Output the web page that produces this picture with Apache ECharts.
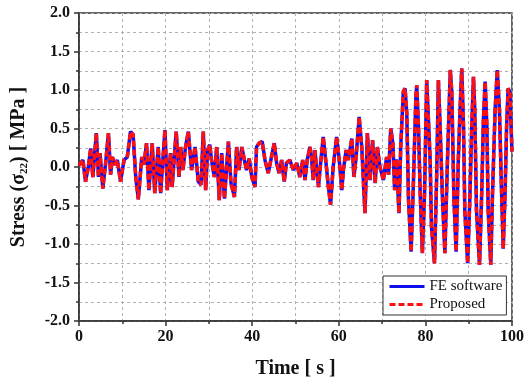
<!DOCTYPE html>
<html>
<head>
<meta charset="utf-8">
<script src="https://cdn.jsdelivr.net/npm/echarts@6/dist/echarts.min.js"></script>
<style>
html,body{margin:0;padding:0;background:#fff;}
#chart{width:527px;height:381px;}
</style>
</head>
<body>
<div id="chart"></div>
<script>
var time = [0.0,0.4,0.9,1.5,2.15,2.7,3.2,4.0,4.5,4.85,5.5,6.15,6.8,7.3,7.7,8.3,8.85,9.6,10.4,11.15,11.9,12.5,13.1,13.7,14.5,15.0,15.6,16.15,16.9,17.5,18.3,18.85,19.85,20.4,21.15,21.5,22.45,23.1,23.45,24.0,24.6,25.25,26.0,26.8,27.55,28.2,28.7,29.25,29.7,30.2,30.6,31.25,31.8,32.4,32.95,33.6,34.5,35.1,35.9,36.4,36.95,37.6,38.2,38.7,39.3,39.9,40.65,41.0,41.6,42.3,42.95,43.7,44.3,45.1,45.65,46.2,46.8,47.4,47.9,48.7,49.5,50.3,51.0,51.65,52.2,52.7,53.35,53.7,54.1,54.5,54.9,55.3,55.8,56.4,57.05,57.6,58.1,58.7,59.5,60.1,60.7,61.05,61.7,62.2,63.0,63.5,64.0,64.7,65.3,66.05,66.6,67.2,67.8,68.4,68.9,69.5,70.3,71.05,71.5,72.0,72.5,72.9,73.3,73.9,74.3,74.9,75.3,75.7,76.1,76.7,77.2,77.8,78.0,78.4,78.8,79.3,79.8,80.3,80.7,81.1,81.4,82.1,82.6,83.0,83.4,83.9,84.5,85.1,85.75,86.1,86.6,87.1,87.6,88.0,88.4,88.8,89.1,89.76,90.3,90.7,91.1,91.4,91.8,92.5,93.0,93.4,93.8,94.2,94.5,95.1,95.5,96.1,96.6,97.1,97.6,97.97,98.4,98.75,99.1,99.5,100];

var feSoftware = [0.02,0.03,0.09,-0.19,0.0,0.24,-0.13,0.44,-0.13,0.18,-0.28,0.05,0.44,-0.1,0.13,0.03,0.09,-0.19,0.09,0.13,0.46,0.42,-0.13,-0.42,0.13,0.03,0.31,-0.3,0.31,-0.34,0.26,-0.34,0.48,-0.3,0.18,-0.26,0.46,-0.13,0.26,-0.04,0.26,0.46,-0.04,0.26,-0.19,-0.23,0.46,-0.3,0.22,0.29,0.09,-0.13,0.26,-0.43,0.18,-0.41,0.33,-0.21,-0.39,0.26,-0.04,0.26,0.09,-0.04,0.11,-0.13,-0.26,0.26,0.31,0.33,0.09,-0.08,0.09,0.31,0.05,-0.08,0.09,-0.19,0.05,0.09,-0.04,0.05,-0.13,0.09,-0.17,0.09,0.26,0.13,-0.17,0.22,-0.04,-0.26,0.05,0.39,0.05,-0.26,-0.49,0.0,0.39,0.09,-0.3,-0.04,0.22,0.09,0.37,-0.13,0.13,0.65,0.26,-0.6,0.44,-0.17,0.35,-0.21,0.26,0.0,-0.17,0.13,-0.1,0.5,0.3,-0.3,0.1,-0.6,0.26,0.98,1.02,0.7,-0.43,-1.1,-0.26,0.91,1.06,0.52,-0.34,-1.12,-0.34,1.13,1.11,0.09,-0.77,-1.25,-0.13,1.13,0.52,-0.34,-1.12,0.09,1.26,0.96,-0.43,-1.1,0.09,0.74,1.28,0.52,-0.56,-1.25,-0.34,0.52,1.17,0.74,-0.56,-1.27,-0.34,0.61,1.11,0.52,-0.56,-1.27,-0.34,0.74,1.26,0.74,-0.34,-1.06,-0.34,0.52,1.02,0.98,0.2];

var proposed = [0.02,0.03,0.09,-0.19,0.0,0.24,-0.13,0.44,-0.13,0.18,-0.28,0.05,0.44,-0.1,0.13,0.03,0.09,-0.19,0.09,0.13,0.46,0.42,-0.13,-0.42,0.13,0.03,0.31,-0.3,0.31,-0.34,0.26,-0.34,0.48,-0.3,0.18,-0.26,0.46,-0.13,0.26,-0.04,0.26,0.46,-0.04,0.26,-0.19,-0.23,0.46,-0.3,0.22,0.29,0.09,-0.13,0.26,-0.43,0.18,-0.41,0.33,-0.21,-0.39,0.26,-0.04,0.26,0.09,-0.04,0.11,-0.13,-0.26,0.26,0.31,0.33,0.09,-0.08,0.09,0.31,0.05,-0.08,0.09,-0.19,0.05,0.09,-0.04,0.05,-0.13,0.09,-0.17,0.09,0.26,0.13,-0.17,0.22,-0.04,-0.26,0.05,0.39,0.05,-0.26,-0.49,0.0,0.39,0.09,-0.3,-0.04,0.22,0.09,0.37,-0.13,0.13,0.65,0.26,-0.6,0.44,-0.17,0.35,-0.21,0.26,0.0,-0.17,0.13,-0.1,0.5,0.3,-0.3,0.1,-0.6,0.26,0.98,1.02,0.7,-0.43,-1.1,-0.26,0.91,1.06,0.52,-0.34,-1.12,-0.34,1.13,1.11,0.09,-0.77,-1.25,-0.13,1.13,0.52,-0.34,-1.12,0.09,1.26,0.96,-0.43,-1.1,0.09,0.74,1.28,0.52,-0.56,-1.25,-0.34,0.52,1.17,0.74,-0.56,-1.27,-0.34,0.61,1.11,0.52,-0.56,-1.27,-0.34,0.74,1.26,0.74,-0.34,-1.06,-0.34,0.52,1.02,0.98,0.2];

var seriesNames = ['FE software', 'Proposed'];
var xTitle = 'Time [ s ]';

function pairs(xs, ys) {
  var out = [];
  for (var i = 0; i < xs.length; i++) out.push([xs[i], ys[i]]);
  return out;
}

var FONT = '"Liberation Serif", "Times New Roman", serif';
var gridLine = { show: true, lineStyle: { color: '#b0b0b0', type: [3, 3], width: 1 } };

var chart = echarts.init(document.getElementById('chart'), null, { renderer: 'canvas' });
chart.setOption({
  animation: false,
  backgroundColor: '#ffffff',
  grid: { left: 79, right: 15, top: 13, bottom: 60, containLabel: false, outerBoundsMode: 'none',
    show: true, borderColor: '#333', borderWidth: 1.5, backgroundColor: 'transparent' },
  legend: {
    orient: 'vertical',
    left: 383, top: 276,
    padding: [3, 4, 3, 5],
    itemGap: 3,
    itemWidth: 35, itemHeight: 14,
    backgroundColor: '#fff',
    borderColor: '#333', borderWidth: 1,
    borderRadius: 0,
    itemStyle: { opacity: 0 },
    lineStyle: { width: 3 },
    textStyle: { fontFamily: FONT, fontSize: 15, color: '#111' },
    data: seriesNames
  },
  xAxis: {
    type: 'value', min: 0, max: 100, interval: 20,
    name: xTitle, nameLocation: 'middle', nameGap: 38,
    nameTextStyle: { fontFamily: FONT, fontWeight: 'bold', fontSize: 20, color: '#111' },
    axisLine: { show: true, onZero: false, lineStyle: { color: '#333', width: 1.5 } },
    axisTick: { show: true, inside: false, length: 5, lineStyle: { color: '#333', width: 1.5 } },
    minorTick: { show: true, splitNumber: 2, length: 3, lineStyle: { color: '#333', width: 1.5 } },
    axisLabel: { fontFamily: FONT, fontWeight: 'bold', fontSize: 16, color: '#111', margin: 8 },
    splitLine: gridLine,
    minorSplitLine: gridLine
  },
  yAxis: {
    type: 'value', min: -2, max: 2, interval: 0.5,
    name: '{a|Stress (σ}{s|22}{a|) [ MPa ]}', nameLocation: 'middle', nameGap: 49, nameRotate: 90,
    nameTextStyle: {
      fontFamily: FONT, fontWeight: 'bold', fontSize: 20, color: '#111',
      rich: {
        a: { fontFamily: FONT, fontWeight: 'bold', fontSize: 20, color: '#111', lineHeight: 22, verticalAlign: 'middle' },
        s: { fontFamily: FONT, fontWeight: 'bold', fontSize: 11, color: '#111', lineHeight: 12, verticalAlign: 'bottom' }
      }
    },
    axisLine: { show: true, onZero: false, lineStyle: { color: '#333', width: 1.5 } },
    axisTick: { show: true, inside: false, length: 5, lineStyle: { color: '#333', width: 1.5 } },
    minorTick: { show: true, splitNumber: 2, length: 3, lineStyle: { color: '#333', width: 1.5 } },
    axisLabel: { fontFamily: FONT, fontWeight: 'bold', fontSize: 16, color: '#111', margin: 9,
      formatter: function (v) { return v.toFixed(1); } },
    splitLine: gridLine,
    minorSplitLine: gridLine
  },
  series: [
    {
      name: seriesNames[0], type: 'line', showSymbol: false, symbol: 'none',
      data: pairs(time, feSoftware),
      lineStyle: { color: '#1010ee', width: 3.5 },
      itemStyle: { color: '#1010ee' },
      z: 2
    },
    {
      name: seriesNames[1], type: 'line', showSymbol: false, symbol: 'none',
      data: pairs(time, proposed),
      lineStyle: { color: '#ff1010', width: 3.5, type: [6, 3] },
      itemStyle: { color: '#ff1010' },
      z: 3
    }
  ]
});
</script>
</body>
</html>
